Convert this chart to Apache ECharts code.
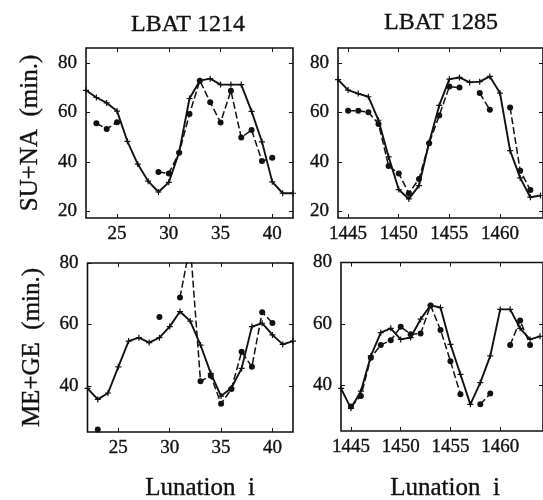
<!DOCTYPE html>
<html>
<head>
<meta charset="utf-8">
<script src="https://cdn.jsdelivr.net/npm/echarts@6/dist/echarts.min.js"></script>
<style>
  html, body { margin: 0; padding: 0; background: #fff; }
  #chart { width: 543px; height: 500px; }
</style>
</head>
<body>
<div id="chart"></div>
<script>
// lunation numbers of the two stations
var lunA = [22, 23, 24, 25, 26, 27, 28, 29, 30, 31, 32, 33, 34, 35, 36, 37, 38, 39, 40, 41, 42];
var lunB = [1444, 1445, 1446, 1447, 1448, 1449, 1450, 1451, 1452, 1453, 1454, 1455, 1456, 1457, 1458, 1459, 1460, 1461, 1462, 1463, 1464];

// SU+NA (min.)
var suNaA = [68.9, 66.0, 63.8, 60.5, 48.3, 39.1, 32.2, 27.8, 31.7, 43.9, 65.6, 72.8, 73.6, 71.2, 71.2, 71.2, 60.4, 48.1, 31.9, 27.3, 27.3];
var suNaAobs = [null, 55.6, 53.3, 56.0, null, null, null, 35.9, 35.3, 43.7, 59.3, 72.8, 64.1, 55.9, 68.7, 49.8, 52.9, 40.3, 41.6, null, null];
var suNaB = [73.2, 69.0, 67.6, 66.3, 56.8, 42.0, 28.8, 25.0, 30.4, 47.8, 62.8, 73.4, 74.1, 72.1, 72.4, 74.5, 67.8, 44.5, 33.5, 25.7, 26.4];
var suNaBobs = [null, 60.6, 60.6, 60.0, 55.3, 38.3, 35.3, 27.3, 33.1, 47.5, 58.7, 70.4, 70.0, null, 67.8, 61.0, null, 62.0, 36.4, 28.6, null];

// ME+GE (min.)
var meGeA = [39.2, 35.6, 37.7, 46.2, 54.6, 55.7, 54.1, 55.7, 59.3, 64.2, 61.1, 53.3, 44.1, 36.7, 39.3, 45.7, 59.3, 60.4, 56.6, 53.5, 54.6];
var meGeAobs = [null, 25.8, null, null, null, null, null, 62.4, null, 68.8, 86, 41.5, 43.3, 34.2, 39.0, 51.1, 46.2, 64.0, 60.5, null, null];
var meGeB = [38.9, 32.4, 38.0, 49.5, 57.1, 58.5, 54.9, 55.5, 61.5, 66.0, 65.3, 53.3, 43.5, 33.7, 40.8, 49.5, 64.7, 64.7, 58.5, 54.9, 55.9];
var meGeBobs = [null, 33.0, 36.4, 48.9, 53.1, 54.6, 59.0, 56.6, 56.8, 66.0, 58.0, 47.8, 37.0, null, 33.7, 37.2, null, 53.1, 61.1, 53.1, null];

// tick labels
var ticksXA = [25, 30, 35, 40];
var ticksXB = [1445, 1450, 1455, 1460];
var ticksYTop = [20, 40, 60, 80];
var ticksYBot = [40, 60, 80];

var FONT = 'Liberation Serif';
var INK = '#111';
var plusSym = 'path://M4,0H6V4H10V6H6V10H4V6H0V4H4Z';

function pairs(xs, ys) {
    return xs.map(function (x, i) { return [x, ys[i] == null ? '-' : ys[i]]; });
}

var panels = [
    {grid: {left: 86, top: 48, width: 207, height: 170}, x: [22, 42], y: [17.3, 86], xt: ticksXA, yt: ticksYTop, name: 'SU+NA  (min.)', lx: lunA, s: suNaA, d: suNaAobs},
    {grid: {left: 338, top: 48, width: 206, height: 170}, x: [1444, 1464.25], y: [17.3, 86], xt: ticksXB, yt: ticksYTop, name: '', lx: lunB, s: suNaB, d: suNaBobs},
    {grid: {left: 87.5, top: 263, width: 205.5, height: 169}, x: [22, 42], y: [25, 80], xt: ticksXA, yt: ticksYBot, name: 'ME+GE  (min.)', lx: lunA, s: meGeA, d: meGeAobs},
    {grid: {left: 341, top: 262.5, width: 205, height: 168.5}, x: [1444, 1464.3], y: [25, 80], xt: ticksXB, yt: ticksYBot, name: '', lx: lunB, s: meGeB, d: meGeBobs}
];

var txt = {fontFamily: FONT, color: INK, textBorderColor: INK, textBorderWidth: 0.35};

var grids = [], xAxes = [], yAxes = [], series = [];
panels.forEach(function (p, g) {
    grids.push(Object.assign({show: true, borderColor: INK, borderWidth: 1.6, backgroundColor: '#fff'}, p.grid));
    ['bottom', 'top'].forEach(function (pos) {
        xAxes.push({
            type: 'value', gridIndex: g, position: pos, min: p.x[0], max: p.x[1],
            axisLine: {show: false},
            axisTick: {show: true, inside: true, length: 4, customValues: p.xt, lineStyle: {color: INK}},
            axisLabel: Object.assign({show: pos === 'bottom', customValues: p.xt, margin: 7, fontSize: 19,
                formatter: function (v) { return String(v); }}, txt),
            splitLine: {show: false}
        });
    });
    ['left', 'right'].forEach(function (pos) {
        yAxes.push({
            type: 'value', gridIndex: g, position: pos, min: p.y[0], max: p.y[1],
            name: pos === 'left' ? p.name : '',
            nameLocation: 'middle', nameGap: 43,
            nameTextStyle: Object.assign({fontSize: 25}, txt),
            axisLine: {show: false},
            axisTick: {show: true, inside: true, length: 4, customValues: p.yt, lineStyle: {color: INK}},
            axisLabel: Object.assign({show: pos === 'left', customValues: p.yt, margin: 9, fontSize: 19}, txt),
            splitLine: {show: false}
        });
    });
    series.push({
        type: 'line', xAxisIndex: 2 * g, yAxisIndex: 2 * g,
        data: pairs(p.lx, p.s),
        symbol: plusSym, symbolSize: 6, showAllSymbol: true,
        itemStyle: {color: INK},
        lineStyle: {color: INK, width: 1.9},
        animation: false, z: 3
    });
    series.push({
        type: 'line', xAxisIndex: 2 * g, yAxisIndex: 2 * g,
        data: pairs(p.lx, p.d),
        symbol: 'circle', symbolSize: 6, showAllSymbol: true,
        itemStyle: {color: INK},
        lineStyle: {color: INK, width: 1.5, type: [7, 3]},
        animation: false, z: 4
    });
});

function label(text, x, y, size) {
    return {
        type: 'text', x: x, y: y,
        style: {text: text, fontFamily: FONT, fontSize: size, fill: INK, stroke: INK, lineWidth: 0.35,
            align: 'center', verticalAlign: 'middle', textAlign: 'center', textVerticalAlign: 'middle'}
    };
}

var chart = echarts.init(document.getElementById('chart'), null, {renderer: 'canvas'});
chart.setOption({
    backgroundColor: '#fff',
    animation: false,
    grid: grids,
    xAxis: xAxes,
    yAxis: yAxes,
    series: series,
    graphic: [
        label('LBAT 1214', 188, 25, 24),
        label('LBAT 1285', 441, 23, 24),
        label('Lunation  i', 200, 488, 25),
        label('Lunation  i', 445, 488, 25)
    ]
});
</script>
</body>
</html>
